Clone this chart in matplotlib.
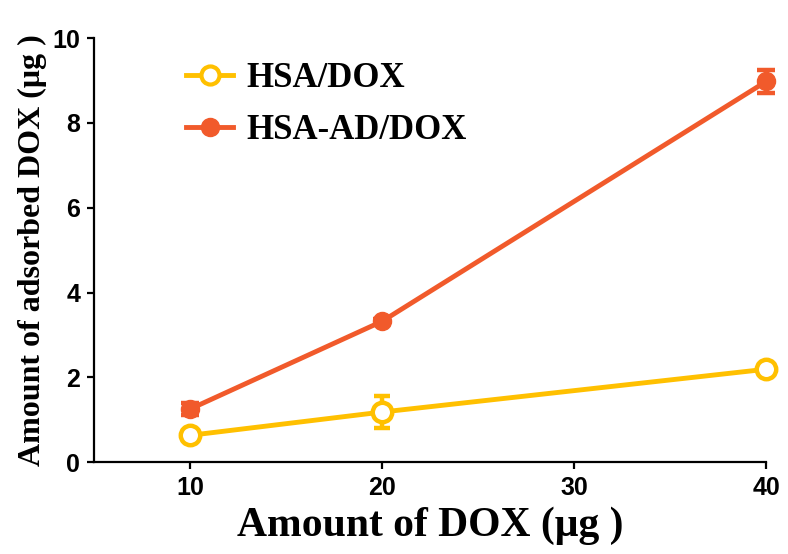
import matplotlib
matplotlib.use("Agg")
import matplotlib.pyplot as plt
from matplotlib.lines import Line2D

# dose added vs. amount adsorbed (ug)
dox_added = [10, 20, 40]
hsa_dox = [0.63, 1.18, 2.19]
hsa_dox_err = [0.05, 0.38, 0.08]
hsa_ad_dox = [1.25, 3.32, 8.98]
hsa_ad_dox_err = [0.15, 0.06, 0.28]

YELLOW = "#FFC000"
ORANGE = "#F15A2B"

fig = plt.figure(figsize=(7.88, 5.54), dpi=100)
ax = fig.add_axes([0.1193, 0.166, 0.853, 0.765])

ax.errorbar(dox_added, hsa_dox, yerr=hsa_dox_err, color=YELLOW, lw=3.5, marker="o",
            ms=14, mfc="white", mec=YELLOW, mew=3.2, elinewidth=3.2, capsize=6, capthick=3.2,
            clip_on=False, zorder=3)
ax.errorbar(dox_added, hsa_ad_dox, yerr=hsa_ad_dox_err, color=ORANGE, lw=3.5, marker="o",
            ms=13, mfc=ORANGE, mec=ORANGE, elinewidth=3.2, capsize=6.5, capthick=3.2,
            clip_on=False, zorder=4)

ax.set_xlim(5, 40)
ax.set_ylim(0, 10)
ax.set_xticks([10, 20, 30, 40])
ax.set_yticks([0, 2, 4, 6, 8, 10])

for side in ("top", "right"):
    ax.spines[side].set_visible(False)
for side in ("left", "bottom"):
    ax.spines[side].set_linewidth(1.6)
ax.tick_params(width=1.6, length=5, labelsize=18, pad=5)
for lab in ax.get_xticklabels() + ax.get_yticklabels():
    lab.set_fontfamily("Liberation Sans")
    lab.set_fontweight("bold")

ax.set_xlabel("Amount of DOX (\u03bcg )", family="Liberation Serif", weight="bold",
              size=30, labelpad=5)
ax.set_ylabel("Amount of adsorbed DOX (\u03bcg )", family="Liberation Serif", weight="bold",
              size=23, labelpad=4)

handles = [
    Line2D([], [], color=YELLOW, lw=3.5, marker="o", ms=13, mfc="white", mec=YELLOW, mew=3),
    Line2D([], [], color=ORANGE, lw=3.5, marker="o", ms=13, mfc=ORANGE, mec=ORANGE),
]
ax.legend(handles, ["HSA/DOX", "HSA-AD/DOX"], loc="upper left",
          bbox_to_anchor=(0.137, 0.944), frameon=False, borderpad=0, borderaxespad=0,
          prop={"family": "Liberation Serif", "weight": "bold", "size": 25},
          handlelength=1.35, handletextpad=0.4, labelspacing=0.55)

fig.savefig("out.png", dpi=100)
